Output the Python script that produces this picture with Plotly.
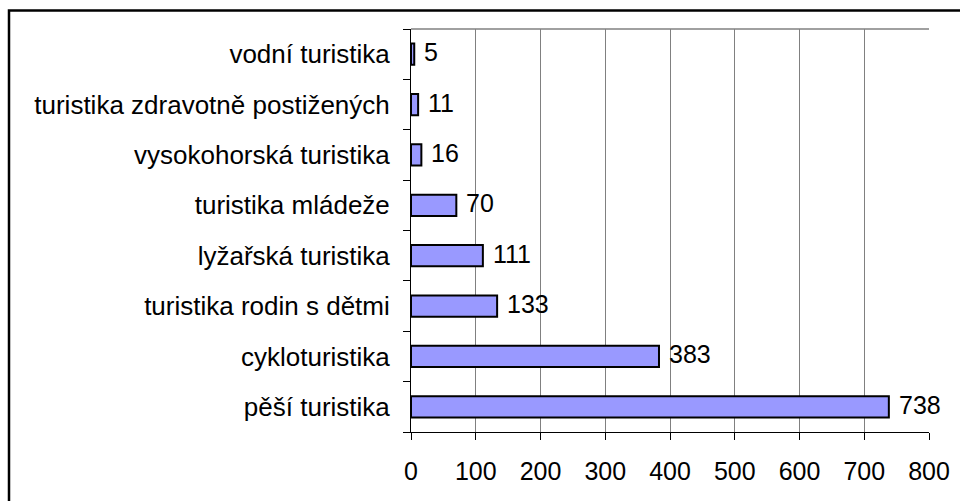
import plotly.graph_objects as go

categories = ["pěší turistika", "cykloturistika", "turistika rodin s dětmi",
              "lyžařská turistika", "turistika mládeže", "vysokohorská turistika",
              "turistika zdravotně postižených", "vodní turistika"]
values = [738, 383, 133, 111, 70, 16, 11, 5]
x_ticks = [0, 100, 200, 300, 400, 500, 600, 700, 800]

FONT = "Liberation Sans, Arial, sans-serif"

fig = go.Figure(go.Bar(
    x=values, y=categories, orientation="h",
    marker=dict(color="#9999FF", line=dict(color="black", width=2)),
    width=0.42,
    hoverinfo="x+y",
))

for c, v in zip(categories, values):
    fig.add_annotation(x=v, y=c, text=str(v), showarrow=False,
                       xanchor="left", yanchor="middle", xshift=8, yshift=2,
                       font=dict(family=FONT, size=25, color="black"))

W, H = 960, 501
L, R, T, B = 411, 31, 29, 69
pw, ph = W - L - R, H - T - B

fig.update_layout(
    width=W, height=H,
    margin=dict(l=L, r=R, t=T, b=B),
    paper_bgcolor="white", plot_bgcolor="white",
    showlegend=False,
    font=dict(family=FONT, size=25, color="black"),
    xaxis=dict(range=[0, 800], tickvals=x_ticks, showgrid=True, gridcolor="#808080",
               gridwidth=1, showline=True, linecolor="black", linewidth=1,
               ticks="outside", ticklen=7, tickcolor="black",
               tickfont=dict(size=25),
               ticklabelstandoff=10, zeroline=False, fixedrange=True,
               automargin=False),
    yaxis=dict(type="category", categoryorder="array", categoryarray=categories,
               showgrid=False, showline=True, linecolor="black", linewidth=1,
               ticks="outside", ticklen=7, tickcolor="black", tickson="boundaries",
               tickfont=dict(size=26),
               ticklabelstandoff=15, fixedrange=True, automargin=False),
    shapes=[
        dict(type="line", xref="paper", yref="paper", x0=0, x1=1, y0=1, y1=1,
             line=dict(color="#808080", width=1.5)),
        dict(type="rect", xref="paper", yref="paper",
             x0=(9 - L) / pw, x1=(W + 40 - L) / pw,
             y0=(H - B - (H + 40)) / ph, y1=(H - B - 10.5) / ph,
             line=dict(color="black", width=2.5), layer="below"),
    ],
)

fig.write_html(
    "out.html",
    config={"displayModeBar": False},
    post_script="document.body.style.margin='0';document.body.style.overflow='hidden';",
)
